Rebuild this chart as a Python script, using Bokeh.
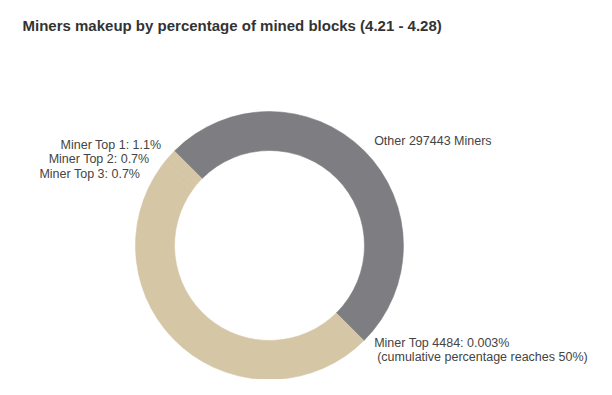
import math
from bokeh.plotting import figure
from bokeh.models import Range1d, Label, ColumnDataSource
from bokeh.core.properties import value
from bokeh.embed import file_html
from bokeh.resources import INLINE

# ---- data ----
miners = ["Miner Top 1", "Miner Top 2", "Miner Top 3", "Miner Top 4-4483", "Miner Top 4484", "Other"]
shares = [1.1, 0.7, 0.7, 47.497, 0.003, 50.0]
labels = ["Miner Top 1: 1.1%", "Miner Top 2: 0.7%", "Miner Top 3: 0.7%", "",
          "Miner Top 4484: 0.003%\n(cumulative percentage reaches 50%)", "Other 297443 Miners"]
colors = ["#d5c6a5", "#d5c6a5", "#d5c6a5", "#d5c6a5", "#d5c6a5", "#7e7d81"]
title_text = "Miners makeup by percentage of mined blocks (4.21 - 4.28)"

W, H = 596, 379
CX, CY = 269, 134          # donut centre (pixel-equal data units)
R_OUT, R_IN = 134, 95
R_LAB = 148
START = math.radians(135)  # first slice starts at upper-left, runs anticlockwise
FONT = "Liberation Sans"

p = figure(width=W, height=H, x_range=Range1d(0, W), y_range=Range1d(0, H),
           output_backend="svg", toolbar_location=None, min_border=0,
           x_axis_location=None, y_axis_location=None, title=None)
p.grid.visible = False
p.outline_line_color = None
p.background_fill_color = "white"
p.border_fill_color = "white"

total = sum(shares)
starts, ends, mids = [], [], []
a = START
for s in shares:
    e = a + 2 * math.pi * s / total
    starts.append(a)
    ends.append(e)
    mids.append((a + e) / 2)
    a = e

src = ColumnDataSource(dict(x=[CX] * len(shares), y=[CY] * len(shares),
                            start=starts, end=ends, color=colors, name=miners))
p.annular_wedge(x="x", y="y", inner_radius=R_IN, outer_radius=R_OUT,
                start_angle="start", end_angle="end", direction="anticlock",
                fill_color="color", line_color="color", line_width=0.6, source=src)

# ---- data labels (placed along the slice mid angle, spread to avoid overlap) ----
SPACING = 14.5
left, right = [], []
for lab, m in zip(labels, mids):
    if not lab:
        continue
    y = CY + R_LAB * math.sin(m)
    (left if math.cos(m) < 0 else right).append([lab, y])

def spread(items):
    items.sort(key=lambda t: -t[1])
    for i in range(1, len(items)):
        if items[i][1] > items[i - 1][1] - SPACING:
            items[i][1] = items[i - 1][1] - SPACING
    return items

for side, items, align in ((-1, spread(left), "right"), (1, spread(right), "left")):
    for lab, y in items:
        dy = max(-R_LAB, min(R_LAB, y - CY))
        x = CX + side * math.sqrt(R_LAB ** 2 - dy ** 2)
        lines = lab.split("\n")
        n = len(lines)
        for k, line in enumerate(lines):
            ly = y + (n - 1) * SPACING / 2 - k * SPACING
            xo = 3 if k > 0 else 0
            p.text(x=[x + xo], y=[ly], text=[line], text_align=align,
                   text_baseline="middle", text_font=value(FONT),
                   text_font_size="12.5px", text_color="#444444")

p.add_layout(Label(x=22, y=354, x_units="screen", y_units="screen", text=title_text,
                   text_font=FONT, text_font_size="15px", text_font_style="bold",
                   text_color="#333333", text_baseline="alphabetic"))

open("out.html", "w").write(file_html(p, INLINE))
